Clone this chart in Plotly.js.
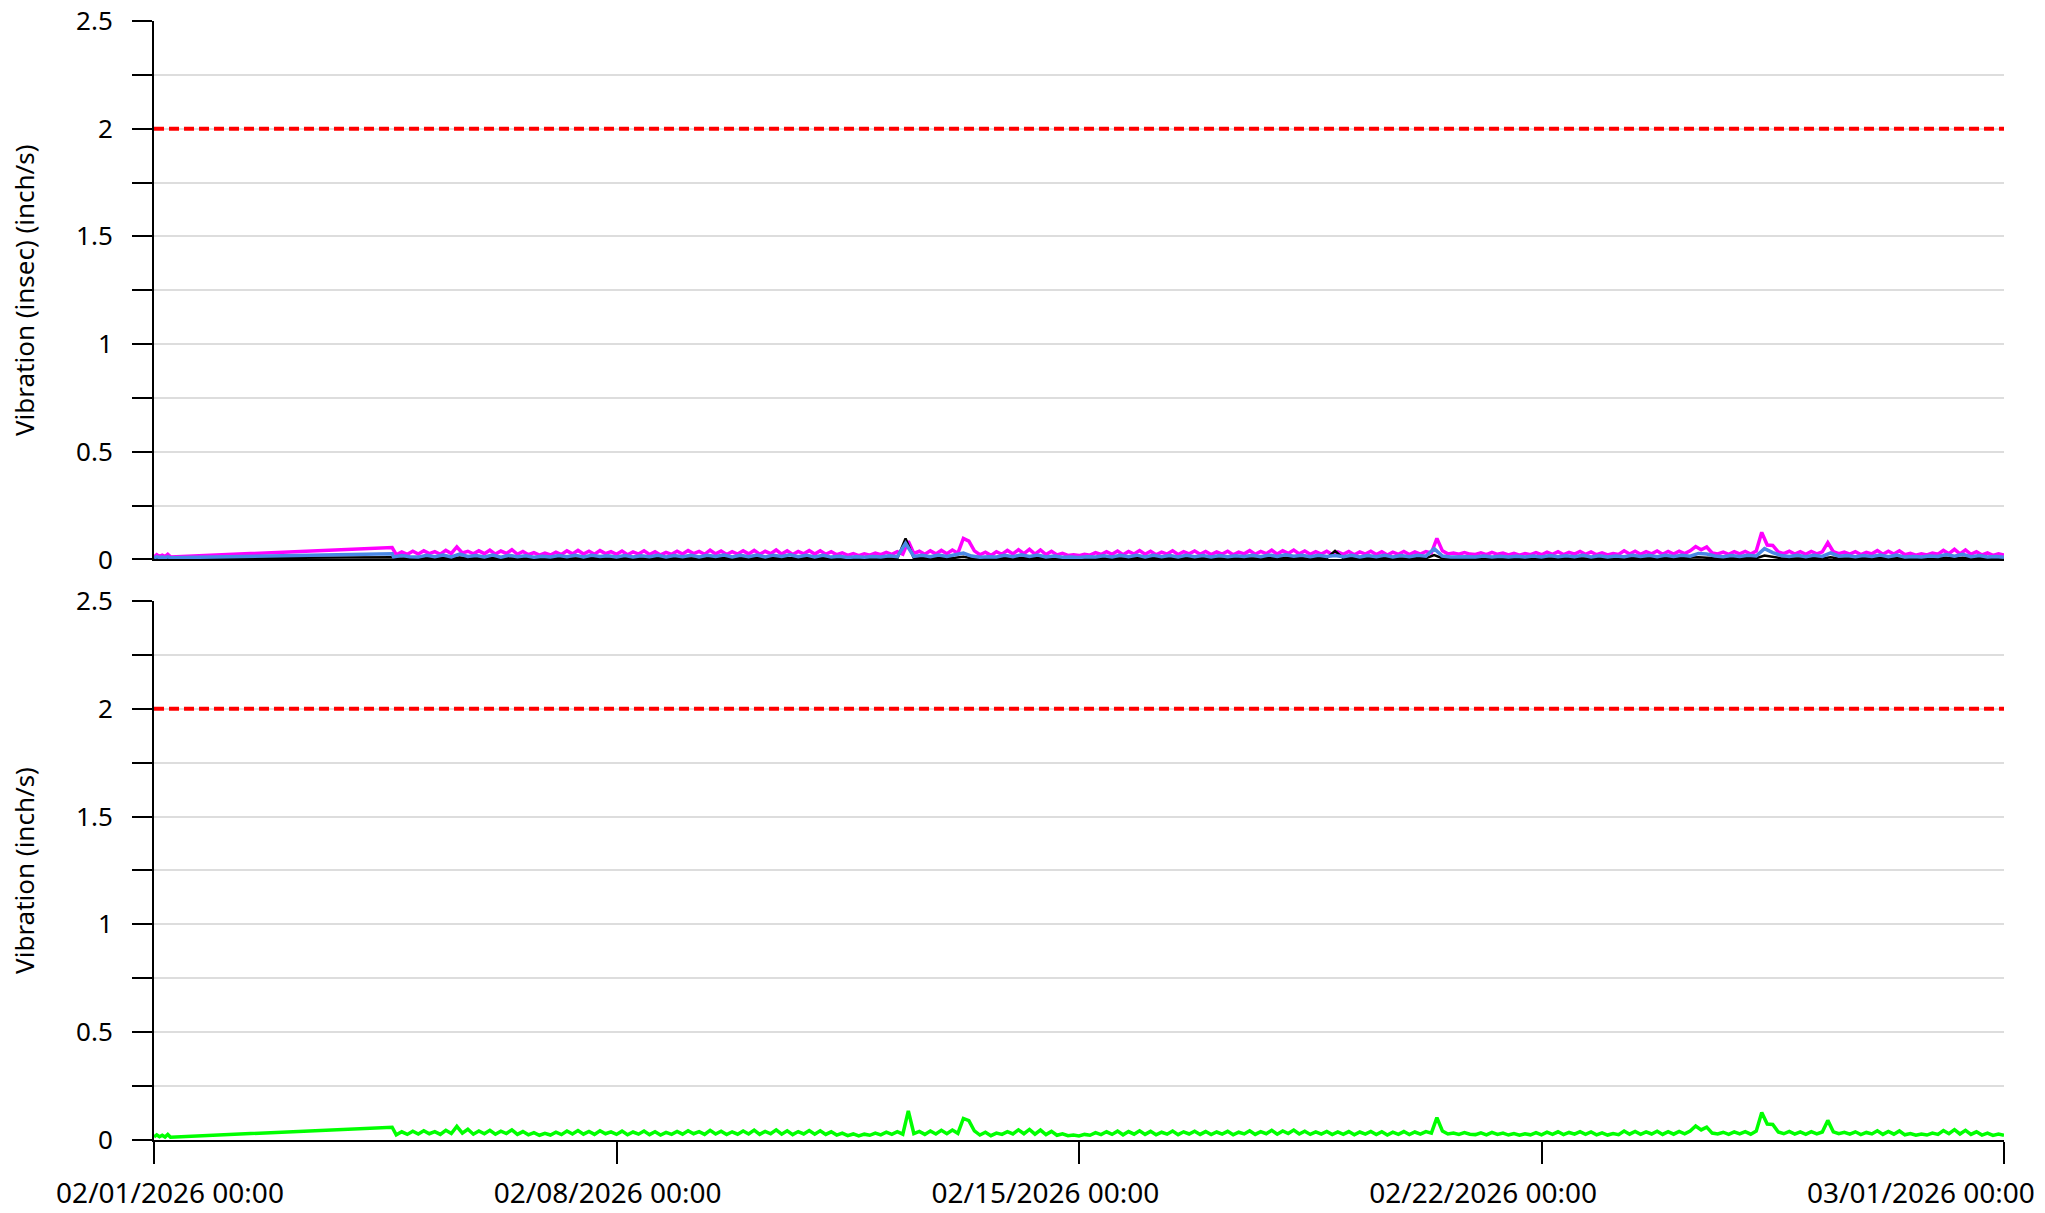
<!DOCTYPE html>
<html>
<head>
<meta charset="utf-8">
<script src="https://cdn.plot.ly/plotly-3.0.1.min.js"></script>
<style>
  html, body { margin: 0; padding: 0; background: #ffffff; }
  #chart { width: 2045px; height: 1213px; }
</style>
</head>
<body>
<div id="chart"></div>
<script>
// ---------------- DATA ----------------
const axisRange = ['2026-02-01 00:00', '2026-03-01 00:00'];
const threshold = 2;
const topTitle = 'Vibration (insec) (inch/s)';
const bottomTitle = 'Vibration (inch/s)';

// first short burst of readings on Feb 1, then the reading where the gap ends
const headTimes = ['2026-02-01 00:00', '2026-02-01 01:00', '2026-02-01 02:00', '2026-02-01 03:00',
                   '2026-02-01 04:00', '2026-02-01 05:00', '2026-02-01 06:00', '2026-02-04 14:30'];
const headMagenta = [0.012, 0.022, 0.014, 0.020, 0.013, 0.024, 0.012, 0.055];
const headBlack   = [0.004, 0.005, 0.004, 0.005, 0.004, 0.005, 0.004, 0.010];
const headBlue    = [0.008, 0.012, 0.009, 0.011, 0.008, 0.012, 0.008, 0.027];
const headGreen   = [0.014, 0.024, 0.015, 0.022, 0.014, 0.026, 0.013, 0.059];

// 2-hourly readings from 2026-02-04 16:00 to 2026-03-01 00:00
const magenta = [
  0.022, 0.035, 0.024, 0.038,
  0.025, 0.040, 0.027, 0.036, 0.024, 0.042, 0.028, 0.058, 0.030, 0.038, 0.026, 0.040, // Feb 5
  0.027, 0.043, 0.025, 0.039, 0.028, 0.045, 0.024, 0.037, 0.022, 0.032, 0.020, 0.030, // Feb 6
  0.021, 0.034, 0.023, 0.040, 0.026, 0.042, 0.025, 0.038, 0.024, 0.041, 0.027, 0.036, // Feb 7
  0.024, 0.039, 0.022, 0.035, 0.025, 0.040, 0.023, 0.036, 0.021, 0.033, 0.024, 0.038, // Feb 8
  0.025, 0.041, 0.027, 0.037, 0.024, 0.043, 0.026, 0.039, 0.023, 0.036, 0.025, 0.040, // Feb 9
  0.026, 0.042, 0.024, 0.038, 0.027, 0.044, 0.025, 0.040, 0.023, 0.037, 0.026, 0.041, // Feb 10
  0.025, 0.040, 0.024, 0.036, 0.022, 0.031, 0.019, 0.027, 0.018, 0.026, 0.020, 0.030, // Feb 11
  0.022, 0.033, 0.024, 0.036, 0.025, 0.085, 0.028, 0.038, 0.024, 0.040, 0.026, 0.042, // Feb 12
  0.027, 0.044, 0.029, 0.098, 0.085, 0.040, 0.022, 0.034, 0.019, 0.036, 0.024, 0.042, // Feb 13
  0.026, 0.045, 0.027, 0.047, 0.025, 0.044, 0.023, 0.038, 0.021, 0.028, 0.019, 0.022, // Feb 14
  0.018, 0.024, 0.020, 0.032, 0.023, 0.036, 0.024, 0.039, 0.022, 0.037, 0.025, 0.041, // Feb 15
  0.024, 0.038, 0.022, 0.034, 0.025, 0.040, 0.023, 0.036, 0.026, 0.039, 0.024, 0.037, // Feb 16
  0.023, 0.035, 0.025, 0.038, 0.022, 0.034, 0.026, 0.041, 0.024, 0.037, 0.027, 0.043, // Feb 17
  0.025, 0.040, 0.028, 0.044, 0.026, 0.039, 0.024, 0.036, 0.025, 0.038, 0.023, 0.035, // Feb 18
  0.024, 0.037, 0.022, 0.035, 0.025, 0.038, 0.023, 0.036, 0.021, 0.034, 0.024, 0.037, // Feb 19
  0.023, 0.035, 0.025, 0.037, 0.030, 0.098, 0.040, 0.026, 0.030, 0.024, 0.032, 0.025, // Feb 20
  0.023, 0.031, 0.022, 0.033, 0.024, 0.030, 0.021, 0.028, 0.020, 0.027, 0.022, 0.032, // Feb 21
  0.022, 0.034, 0.024, 0.036, 0.023, 0.033, 0.025, 0.037, 0.024, 0.035, 0.022, 0.031, // Feb 22
  0.021, 0.028, 0.023, 0.040, 0.025, 0.038, 0.024, 0.036, 0.026, 0.039, 0.024, 0.037, // Feb 23
  0.025, 0.038, 0.027, 0.040, 0.060, 0.045, 0.058, 0.030, 0.026, 0.034, 0.024, 0.036, // Feb 24
  0.026, 0.037, 0.025, 0.039, 0.126, 0.067, 0.065, 0.035, 0.027, 0.038, 0.025, 0.036, // Feb 25
  0.024, 0.037, 0.026, 0.035, 0.078, 0.036, 0.027, 0.034, 0.025, 0.036, 0.023, 0.033, // Feb 26
  0.026, 0.041, 0.024, 0.038, 0.025, 0.040, 0.022, 0.028, 0.020, 0.026, 0.021, 0.030, // Feb 27
  0.024, 0.042, 0.027, 0.047, 0.026, 0.044, 0.024, 0.036, 0.021, 0.030, 0.019, 0.026, // Feb 28
  0.020
];

const green = [
  0.024, 0.038, 0.026, 0.041,
  0.028, 0.043, 0.029, 0.039, 0.026, 0.045, 0.030, 0.063, 0.032, 0.050, 0.027, 0.042, // Feb 5
  0.029, 0.045, 0.027, 0.041, 0.030, 0.047, 0.026, 0.039, 0.024, 0.034, 0.022, 0.031, // Feb 6
  0.023, 0.036, 0.025, 0.042, 0.028, 0.044, 0.027, 0.040, 0.026, 0.043, 0.029, 0.038, // Feb 7
  0.026, 0.041, 0.024, 0.037, 0.027, 0.042, 0.025, 0.038, 0.023, 0.035, 0.026, 0.040, // Feb 8
  0.027, 0.043, 0.029, 0.039, 0.026, 0.045, 0.028, 0.041, 0.025, 0.038, 0.027, 0.042, // Feb 9
  0.028, 0.046, 0.026, 0.040, 0.029, 0.047, 0.027, 0.043, 0.025, 0.039, 0.028, 0.044, // Feb 10
  0.027, 0.043, 0.026, 0.038, 0.023, 0.032, 0.020, 0.028, 0.019, 0.027, 0.022, 0.032, // Feb 11
  0.024, 0.036, 0.026, 0.039, 0.027, 0.135, 0.030, 0.040, 0.026, 0.042, 0.028, 0.045, // Feb 12
  0.029, 0.046, 0.031, 0.100, 0.090, 0.042, 0.023, 0.036, 0.020, 0.032, 0.026, 0.039, // Feb 13
  0.028, 0.047, 0.029, 0.049, 0.027, 0.046, 0.025, 0.040, 0.022, 0.029, 0.020, 0.023, // Feb 14
  0.019, 0.026, 0.022, 0.034, 0.025, 0.038, 0.026, 0.041, 0.024, 0.039, 0.027, 0.043, // Feb 15
  0.026, 0.040, 0.024, 0.036, 0.027, 0.042, 0.025, 0.038, 0.028, 0.041, 0.026, 0.039, // Feb 16
  0.025, 0.037, 0.027, 0.040, 0.024, 0.036, 0.028, 0.043, 0.026, 0.039, 0.029, 0.045, // Feb 17
  0.027, 0.042, 0.030, 0.046, 0.028, 0.041, 0.026, 0.038, 0.027, 0.040, 0.025, 0.037, // Feb 18
  0.026, 0.039, 0.024, 0.037, 0.027, 0.040, 0.025, 0.038, 0.023, 0.036, 0.026, 0.039, // Feb 19
  0.025, 0.037, 0.027, 0.039, 0.032, 0.104, 0.042, 0.028, 0.032, 0.026, 0.034, 0.027, // Feb 20
  0.025, 0.033, 0.024, 0.035, 0.026, 0.032, 0.023, 0.030, 0.022, 0.029, 0.024, 0.034, // Feb 21
  0.024, 0.036, 0.026, 0.038, 0.025, 0.035, 0.027, 0.039, 0.026, 0.037, 0.024, 0.033, // Feb 22
  0.023, 0.030, 0.025, 0.042, 0.027, 0.040, 0.026, 0.038, 0.028, 0.041, 0.026, 0.039, // Feb 23
  0.027, 0.040, 0.029, 0.042, 0.065, 0.047, 0.060, 0.032, 0.028, 0.036, 0.026, 0.038, // Feb 24
  0.028, 0.039, 0.027, 0.041, 0.128, 0.074, 0.072, 0.037, 0.029, 0.040, 0.027, 0.038, // Feb 25
  0.026, 0.039, 0.028, 0.037, 0.091, 0.038, 0.029, 0.036, 0.027, 0.038, 0.025, 0.035, // Feb 26
  0.028, 0.043, 0.026, 0.040, 0.027, 0.042, 0.024, 0.030, 0.022, 0.028, 0.023, 0.032, // Feb 27
  0.026, 0.044, 0.029, 0.048, 0.028, 0.045, 0.026, 0.038, 0.023, 0.032, 0.021, 0.028, // Feb 28
  0.022
];

// 3-hourly readings from 2026-02-04 15:00 to 2026-03-01 00:00
const blue = [
  0.012, 0.018, 0.013,
  0.011, 0.019, 0.013, 0.021, 0.012, 0.025, 0.014, 0.018, // Feb 5
  0.012, 0.020, 0.011, 0.019, 0.013, 0.017, 0.010, 0.015, // Feb 6
  0.011, 0.018, 0.013, 0.020, 0.012, 0.019, 0.014, 0.017, // Feb 7
  0.012, 0.018, 0.011, 0.017, 0.013, 0.019, 0.012, 0.018, // Feb 8
  0.013, 0.020, 0.012, 0.019, 0.014, 0.021, 0.012, 0.019, // Feb 9
  0.013, 0.021, 0.012, 0.020, 0.014, 0.022, 0.013, 0.020, // Feb 10
  0.012, 0.019, 0.011, 0.015, 0.009, 0.013, 0.010, 0.014, // Feb 11
  0.012, 0.017, 0.013, 0.075, 0.014, 0.019, 0.013, 0.021, // Feb 12
  0.014, 0.022, 0.030, 0.016, 0.010, 0.013, 0.012, 0.019, // Feb 13
  0.013, 0.022, 0.014, 0.021, 0.012, 0.016, 0.010, 0.011, // Feb 14
  0.009, 0.013, 0.011, 0.017, 0.012, 0.019, 0.013, 0.020, // Feb 15
  0.012, 0.019, 0.013, 0.018, 0.012, 0.019, 0.013, 0.018, // Feb 16
  0.012, 0.018, 0.013, 0.017, 0.014, 0.020, 0.013, 0.021, // Feb 17
  0.014, 0.022, 0.015, 0.020, 0.013, 0.019, 0.014, 0.018, // Feb 18
  0.013, 0.019, 0.012, 0.018, 0.013, 0.019, 0.012, 0.018, // Feb 19
  0.013, 0.019, 0.015, 0.050, 0.016, 0.012, 0.014, 0.013, // Feb 20
  0.012, 0.016, 0.011, 0.015, 0.012, 0.015, 0.011, 0.016, // Feb 21
  0.012, 0.018, 0.013, 0.017, 0.013, 0.019, 0.012, 0.017, // Feb 22
  0.011, 0.016, 0.013, 0.020, 0.014, 0.019, 0.013, 0.020, // Feb 23
  0.014, 0.020, 0.015, 0.028, 0.025, 0.016, 0.013, 0.018, // Feb 24
  0.014, 0.020, 0.016, 0.050, 0.032, 0.018, 0.014, 0.019, // Feb 25
  0.013, 0.019, 0.014, 0.030, 0.015, 0.018, 0.013, 0.018, // Feb 26
  0.014, 0.021, 0.013, 0.020, 0.011, 0.014, 0.011, 0.016, // Feb 27
  0.014, 0.023, 0.015, 0.024, 0.013, 0.018, 0.011, 0.014, // Feb 28
  0.010
];

const black = [
  0.006, 0.005, 0.007,
  0.005, 0.007, 0.006, 0.008, 0.005, 0.009, 0.006, 0.007, // Feb 5
  0.005, 0.007, 0.004, 0.006, 0.005, 0.007, 0.004, 0.006, // Feb 6
  0.005, 0.006, 0.005, 0.007, 0.004, 0.006, 0.005, 0.006, // Feb 7
  0.004, 0.006, 0.005, 0.006, 0.005, 0.007, 0.004, 0.006, // Feb 8
  0.005, 0.007, 0.005, 0.006, 0.006, 0.008, 0.005, 0.007, // Feb 9
  0.005, 0.007, 0.006, 0.008, 0.005, 0.007, 0.006, 0.007, // Feb 10
  0.005, 0.006, 0.004, 0.005, 0.003, 0.005, 0.004, 0.005, // Feb 11
  0.004, 0.006, 0.005, 0.098, 0.006, 0.007, 0.005, 0.008, // Feb 12
  0.006, 0.008, 0.012, 0.006, 0.004, 0.005, 0.004, 0.007, // Feb 13
  0.005, 0.008, 0.006, 0.008, 0.005, 0.006, 0.004, 0.004, // Feb 14
  0.003, 0.005, 0.004, 0.006, 0.005, 0.007, 0.005, 0.007, // Feb 15
  0.005, 0.007, 0.005, 0.006, 0.005, 0.007, 0.004, 0.006, // Feb 16
  0.004, 0.006, 0.005, 0.006, 0.005, 0.007, 0.005, 0.008, // Feb 17
  0.005, 0.008, 0.006, 0.007, 0.005, 0.007, 0.006, 0.040, // Feb 18
  0.006, 0.007, 0.005, 0.006, 0.005, 0.007, 0.004, 0.006, // Feb 19
  0.005, 0.006, 0.006, 0.020, 0.006, 0.004, 0.005, 0.005, // Feb 20
  0.004, 0.005, 0.004, 0.005, 0.004, 0.005, 0.004, 0.006, // Feb 21
  0.004, 0.006, 0.005, 0.006, 0.005, 0.007, 0.004, 0.006, // Feb 22
  0.004, 0.005, 0.005, 0.007, 0.005, 0.006, 0.005, 0.007, // Feb 23
  0.005, 0.007, 0.006, 0.010, 0.008, 0.005, 0.004, 0.006, // Feb 24
  0.005, 0.007, 0.006, 0.018, 0.011, 0.006, 0.005, 0.006, // Feb 25
  0.005, 0.006, 0.005, 0.010, 0.005, 0.006, 0.004, 0.006, // Feb 26
  0.005, 0.007, 0.004, 0.006, 0.004, 0.005, 0.004, 0.005, // Feb 27
  0.005, 0.008, 0.005, 0.008, 0.004, 0.006, 0.004, 0.005, // Feb 28
  0.003
];

// ---------------- BUILD ----------------
function sampleTimes(startUTC, stepHours, n) {
  const out = [];
  for (let i = 0; i < n; i++) {
    const d = new Date(startUTC + i * stepHours * 3600000);
    out.push(d.toISOString().slice(0, 19).replace('T', ' '));
  }
  return out;
}
const t2h = sampleTimes(Date.UTC(2026, 1, 4, 16), 2, magenta.length);
const t3h = sampleTimes(Date.UTC(2026, 1, 4, 15), 3, blue.length);

function series(times, vals, headVals, color, width, xa, ya) {
  return {
    type: 'scatter', mode: 'lines',
    x: headTimes.concat(times), y: headVals.concat(vals),
    line: { color: color, width: width, shape: 'linear' },
    xaxis: xa, yaxis: ya, hoverinfo: 'skip', showlegend: false
  };
}

const traces = [
  series(t2h, magenta, headMagenta, '#ff00ff', 3.5, 'x', 'y'),
  series(t3h, black, headBlack, '#000000', 2.5, 'x', 'y'),
  series(t3h, blue, headBlue, '#4a88e6', 3.5, 'x', 'y'),
  series(t2h, green, headGreen, '#00ff00', 3.5, 'x2', 'y2'),
  // empty helper so the date-label axis row (x3) gets drawn; it has no visible points
  { type: 'scatter', mode: 'lines', x: axisRange, y: [null, null], xaxis: 'x3', yaxis: 'y2',
    hoverinfo: 'skip', showlegend: false, line: { width: 0 } }
];

const FONT = 'Noto Sans, DejaVu Sans, sans-serif';
const weekMs = 7 * 24 * 3600 * 1000;

function yAxis(domain, title) {
  return {
    domain: domain, range: [0, 2.5], fixedrange: true,
    dtick: 0.5, tick0: 0,
    ticks: 'outside', ticklen: 20, tickwidth: 2, tickcolor: '#000000',
    showline: true, linecolor: '#000000', linewidth: 2,
    showgrid: true, gridcolor: '#dddddd', gridwidth: 2,
    zeroline: false,
    minor: { dtick: 0.25, ticks: 'outside', ticklen: 20, tickwidth: 2, tickcolor: '#000000',
             showgrid: true, gridcolor: '#dddddd', gridwidth: 2 },
    tickfont: { family: FONT, size: 26, color: '#000000' },
    ticklabelstandoff: 14,
    title: { text: title, font: { family: FONT, size: 26, color: '#000000' }, standoff: 34 }
  };
}

const layout = {
  width: 2045, height: 1213,
  margin: { l: 154, r: 41, t: 21, b: 73, autoexpand: false },
  paper_bgcolor: '#ffffff', plot_bgcolor: 'rgba(0,0,0,0)',
  showlegend: false,
  xaxis: {
    type: 'date', range: axisRange, anchor: 'y', matches: 'x2',
    showline: true, linecolor: '#000000', linewidth: 2,
    ticks: '', showticklabels: false, showgrid: false, zeroline: false, fixedrange: true
  },
  yaxis: yAxis([0.5188, 1], topTitle),
  xaxis2: {
    type: 'date', range: axisRange, anchor: 'y2',
    tick0: axisRange[0], dtick: weekMs,
    showline: true, linecolor: '#000000', linewidth: 2,
    ticks: 'outside', ticklen: 22, tickwidth: 2, tickcolor: '#000000',
    showticklabels: false, showgrid: false, zeroline: false, fixedrange: true
  },
  yaxis2: yAxis([0, 0.4817], bottomTitle),
  // label row of the date axis (labels are spread across the full width)
  xaxis3: {
    type: 'date', range: axisRange, anchor: 'y2',
    domain: [0.00865, 0.9551],
    tick0: axisRange[0], dtick: weekMs, tickformat: '%m/%d/%Y %H:%M',
    showline: false, ticks: 'outside', ticklen: 28, tickcolor: 'rgba(0,0,0,0)',
    showgrid: false, zeroline: false, fixedrange: true,
    tickfont: { family: FONT, size: 28, color: '#000000' }
  },
  shapes: [
    { type: 'line', xref: 'paper', x0: 0, x1: 1, yref: 'y', y0: threshold, y1: threshold,
      line: { color: '#ff0000', width: 4, dash: '10px,5px' } },
    { type: 'line', xref: 'paper', x0: 0, x1: 1, yref: 'y2', y0: threshold, y1: threshold,
      line: { color: '#ff0000', width: 4, dash: '10px,5px' } }
  ]
};

Plotly.newPlot('chart', traces, layout, { displayModeBar: false, staticPlot: true });
</script>
</body>
</html>
